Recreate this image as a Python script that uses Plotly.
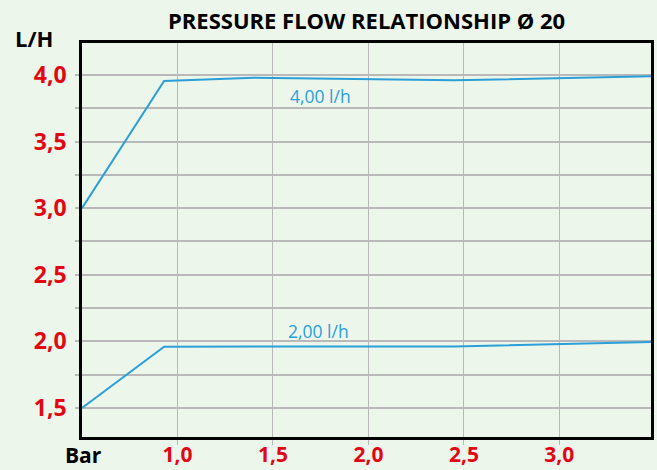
import plotly.graph_objects as go

# Data
pressure_4 = [0.5, 0.93, 1.4, 2.45, 3.48]
flow_4 = [3.0, 3.955, 3.98, 3.96, 3.99]
pressure_2 = [0.5, 0.93, 2.45, 3.48]
flow_2 = [1.5, 1.96, 1.962, 1.995]

x_ticks = [1.0, 1.5, 2.0, 2.5, 3.0]
x_tick_labels = ["1,0", "1,5", "2,0", "2,5", "3,0"]
y_ticks = [1.5, 1.75, 2.0, 2.25, 2.5, 2.75, 3.0, 3.25, 3.5, 3.75, 4.0]
y_tick_labels = ["1,5", "", "2,0", "", "2,5", "", "3,0", "", "3,5", "", "4,0"]

series_labels = ["4,00 l/h", "2,00 l/h"]

BLUE = "#2a9fd8"
RED = "#e30613"
BG = "#edf6eb"
GRID = "#b9b9b9"
FONT = "Open Sans"

fig = go.Figure()
fig.add_trace(go.Scatter(x=pressure_4, y=flow_4, mode="lines",
                         line=dict(color=BLUE, width=2), hoverinfo="skip"))
fig.add_trace(go.Scatter(x=pressure_2, y=flow_2, mode="lines",
                         line=dict(color=BLUE, width=2), hoverinfo="skip"))

fig.add_annotation(x=1.75, y=3.84, text=series_labels[0], showarrow=False,
                   font=dict(family=FONT, size=17.5, color=BLUE))
fig.add_annotation(x=1.74, y=2.08, text=series_labels[1], showarrow=False,
                   font=dict(family=FONT, size=17.5, color=BLUE))

fig.add_annotation(xref="paper", yref="paper", x=0.5, y=1.0, yshift=23,
                   text="<b>PRESSURE FLOW RELATIONSHIP Ø 20</b>", showarrow=False,
                   font=dict(family=FONT, size=22, color="black"),
                   xanchor="center", yanchor="middle")
fig.add_annotation(xref="paper", yref="paper", x=0, y=1.0, xshift=-48, yshift=5,
                   text="<b>L/H</b>", showarrow=False,
                   font=dict(family=FONT, size=22, color="black"),
                   xanchor="center", yanchor="middle")
fig.add_annotation(xref="paper", yref="paper", x=0, y=0, xshift=1, yshift=-18,
                   text="<b>Bar</b>", showarrow=False,
                   font=dict(family=FONT, size=21, color="black"),
                   xanchor="center", yanchor="middle")

fig.update_layout(
    width=657, height=470,
    margin=dict(l=82, r=6, t=43, b=33),
    paper_bgcolor=BG, plot_bgcolor=BG,
    showlegend=False,
    xaxis=dict(range=[0.5, 3.48], tickvals=x_ticks, ticktext=x_tick_labels,
               showgrid=True, gridcolor=GRID, gridwidth=1.2,
               showline=True, linecolor="black", linewidth=2.5, mirror=True,
               ticks="outside", ticklen=5, tickcolor=GRID, tickwidth=1.2,
               tickfont=dict(family=FONT, size=21, color=RED, weight="bold"),
               ticklabelstandoff=-8, automargin=False,
               zeroline=False, fixedrange=True),
    yaxis=dict(range=[1.282, 4.24], tickvals=y_ticks, ticktext=y_tick_labels,
               showgrid=True, gridcolor=GRID, gridwidth=1.5,
               showline=True, linecolor="black", linewidth=2.5, mirror=True,
               ticks="outside", ticklen=4, tickcolor=GRID, tickwidth=1.5,
               tickfont=dict(family=FONT, size=23, color=RED, weight="bold"),
               ticklabelstandoff=4, automargin=False,
               zeroline=False, fixedrange=True),
)

fig.write_html("out.html", config={"displayModeBar": False},
               post_script="document.body.style.margin='0';document.body.style.background='%s';" % BG)
